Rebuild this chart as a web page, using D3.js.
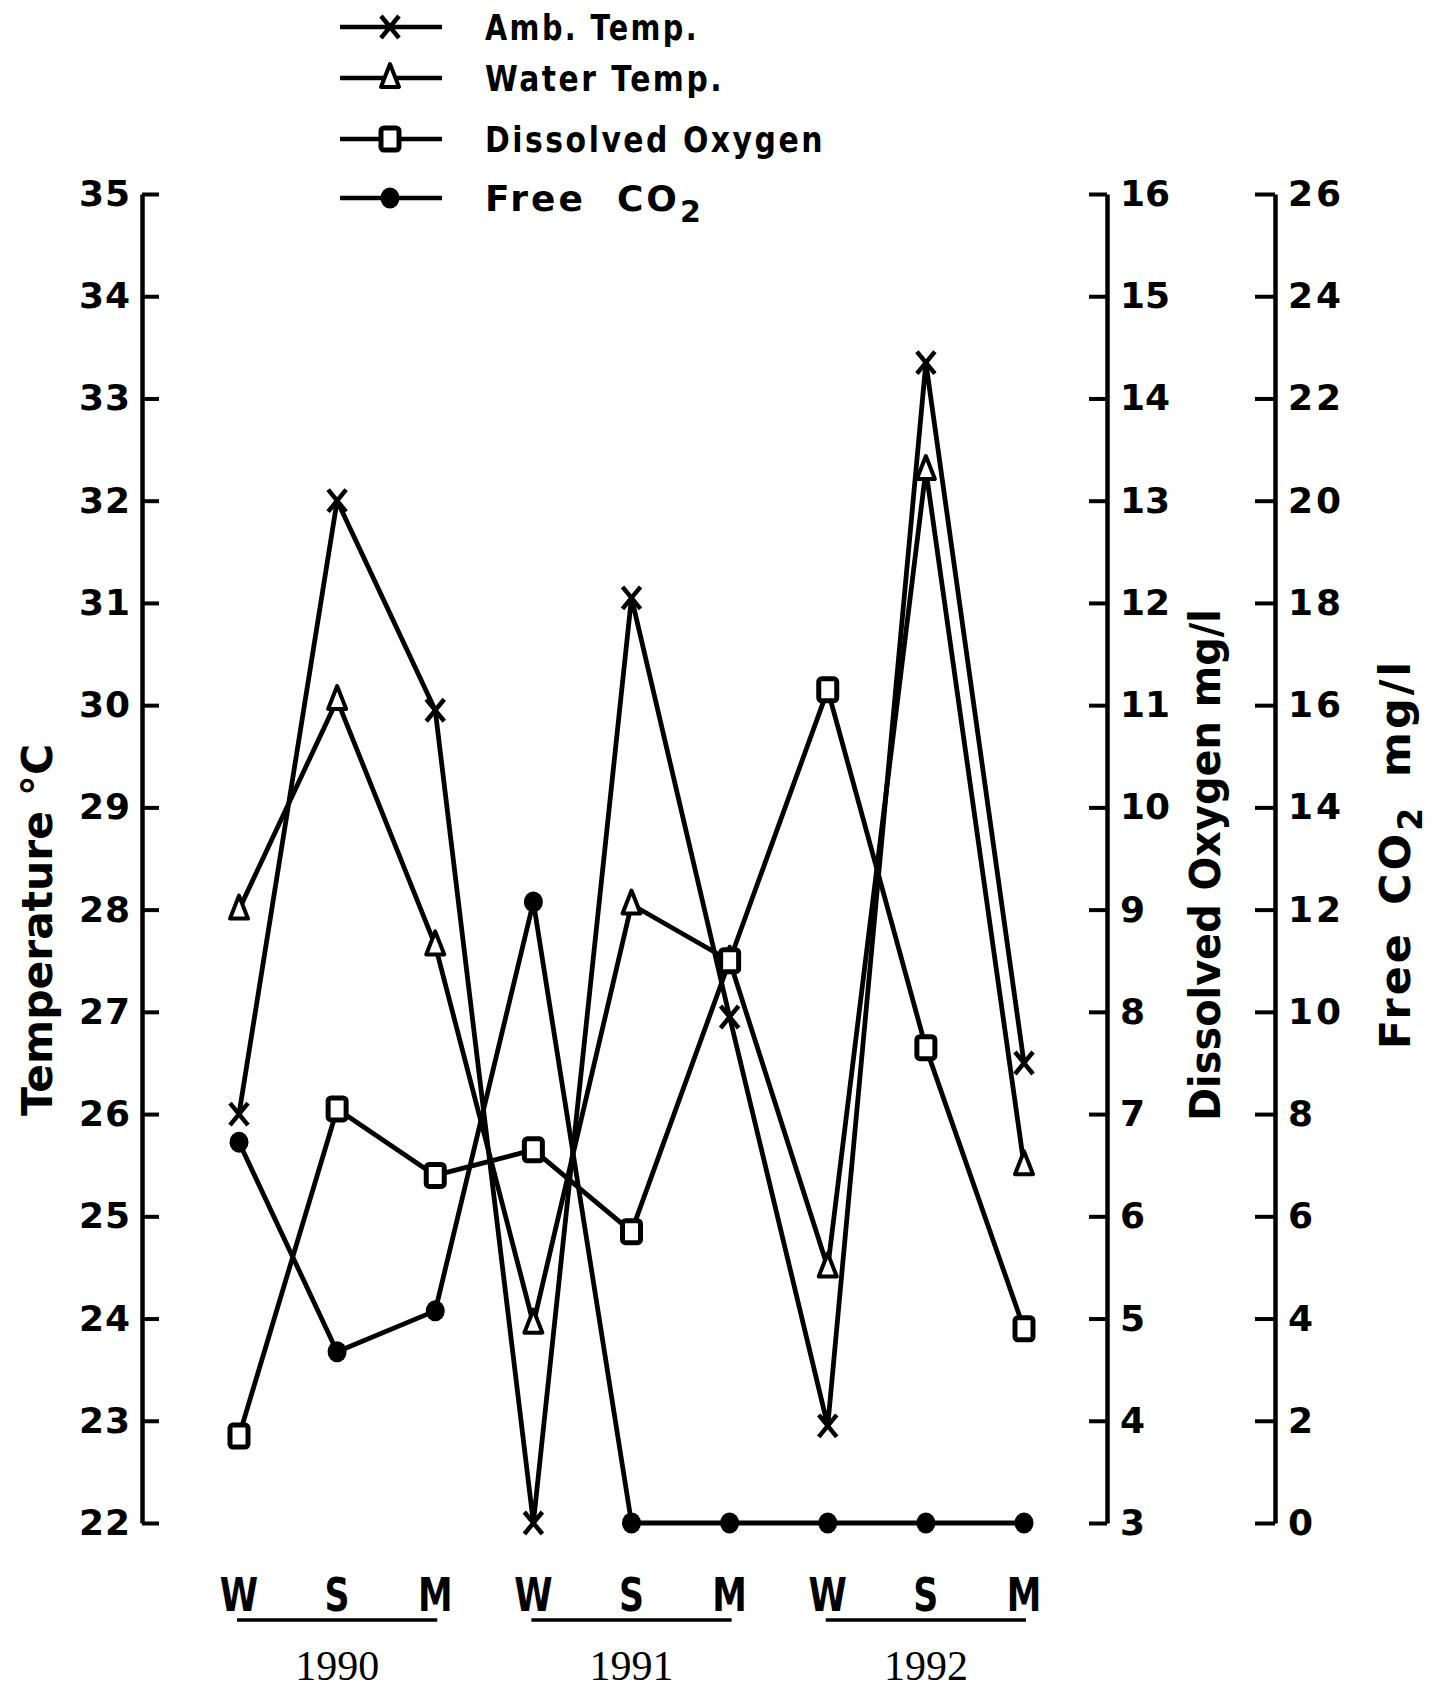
<!DOCTYPE html>
<html><head><meta charset="utf-8">
<script src="https://cdn.jsdelivr.net/npm/d3@7"></script>
<style>
body{margin:0;background:#fff;}
svg{display:block;}
text{fill:#000;}
</style></head>
<body>
<script>
// ---- data ----
const seasons = ["W","S","M","W","S","M","W","S","M"];
const years = ["1990","1991","1992"];
const ambTemp = [26.0, 32.0, 29.95, 22.0, 31.05, 26.95, 22.95, 33.35, 26.5];
const waterTemp = [28.0, 30.05, 27.65, 23.95, 28.05, 27.5, 24.5, 32.3, 25.5];
const dissolvedO2 = [3.85, 7.05, 6.4, 6.65, 5.85, 8.5, 11.15, 7.65, 4.9];
const freeCO2 = [7.45, 3.35, 4.15, 12.15, 0, 0, 0, 0, 0];
const tempTicks = d3.range(22, 36, 1);
const doTicks = d3.range(3, 17, 1);
const co2Ticks = d3.range(0, 27, 2);
const legendLabels = ["Amb. Temp.", "Water Temp.", "Dissolved Oxygen", "Free  CO"];

(function(){
const W = 1450, H = 1691;
const svg = d3.select("body").append("svg").attr("width", W).attr("height", H);

const plotTop = 194, plotBottom = 1523;
const x = d3.scalePoint().domain(d3.range(9)).range([239, 1024]);
const yT = d3.scaleLinear().domain([22, 35]).range([plotBottom, plotTop]);
const yDO = d3.scaleLinear().domain([3, 16]).range([plotBottom, plotTop]);
const yC = d3.scaleLinear().domain([0, 26]).range([plotBottom, plotTop]);

const tickFont = "bold 36px 'DejaVu Sans', sans-serif";
function styleAxis(g){
  g.selectAll("path").attr("stroke","#000").attr("stroke-width",4.5);
  g.selectAll("line").attr("stroke","#000").attr("stroke-width",4);
  g.selectAll("text").style("font", tickFont).attr("fill","#000");
}

// left axis
const gL = svg.append("g").attr("transform","translate(142,0)")
  .call(d3.axisLeft(yT).tickValues(tempTicks).tickSizeInner(-17).tickSizeOuter(0).tickPadding(11).tickFormat(d3.format("d")));
styleAxis(gL);
gL.selectAll("text").attr("letter-spacing", 1);

// DO axis
const gD = svg.append("g").attr("transform","translate(1107,0)")
  .call(d3.axisRight(yDO).tickValues(doTicks).tickSizeInner(-18).tickSizeOuter(0).tickPadding(13).tickFormat(d3.format("d")));
styleAxis(gD);

// CO2 axis
const gC = svg.append("g").attr("transform","translate(1275,0)")
  .call(d3.axisRight(yC).tickValues(co2Ticks).tickSizeInner(-20).tickSizeOuter(0).tickPadding(13).tickFormat(d3.format("d")));
styleAxis(gC);
gC.selectAll("text").attr("letter-spacing", 3);

// axis titles
const titleFont = "bold 42px 'DejaVu Sans', sans-serif";
svg.append("text").attr("transform","translate(52,930) rotate(-90)")
  .attr("text-anchor","middle").style("font", titleFont)
  .attr("textLength", 372).attr("lengthAdjust","spacingAndGlyphs")
  .text("Temperature  °C");
svg.append("text").attr("transform","translate(1220,865) rotate(-90)")
  .attr("text-anchor","middle").style("font", titleFont)
  .attr("textLength", 512).attr("lengthAdjust","spacingAndGlyphs")
  .text("Dissolved Oxygen  mg/l");
const tC = svg.append("text").attr("transform","translate(1410,854) rotate(-90)")
  .attr("text-anchor","middle").style("font", "bold 43px 'DejaVu Sans', sans-serif")
  .attr("letter-spacing", 3);
tC.append("tspan").text("Free");
tC.append("tspan").attr("dx", 26).text("CO");
tC.append("tspan").attr("dy", 12).style("font-size","33px").text("2");
tC.append("tspan").attr("dy", -12).attr("dx", 28).text("mg/l");

// series
const series = [
  {vals: ambTemp, y: yT, type: "x"},
  {vals: waterTemp, y: yT, type: "tri"},
  {vals: dissolvedO2, y: yDO, type: "sq"},
  {vals: freeCO2, y: yC, type: "dot"}
];
const line = (ys) => d3.line().x((d,i)=>x(i)).y(d=>ys(d));
series.forEach(s=>{
  svg.append("path").attr("d", line(s.y)(s.vals)).attr("fill","none")
    .attr("stroke","#000").attr("stroke-width",4.8).attr("stroke-linejoin","round");
});
function marker(g, type, cx, cy){
  if(type==="x"){
    g.append("path").attr("d",`M${cx-9},${cy-11}L${cx+9},${cy+11}M${cx+9},${cy-11}L${cx-9},${cy+11}`)
      .attr("stroke","#000").attr("stroke-width",4.5).attr("fill","none");
  } else if(type==="tri"){
    g.append("path").attr("d",`M${cx},${cy-14}L${cx+9},${cy+9}L${cx-9},${cy+9}Z`)
      .attr("stroke","#000").attr("stroke-width",4).attr("fill","#fff").attr("stroke-linejoin","round");
  } else if(type==="sq"){
    g.append("rect").attr("x",cx-9).attr("y",cy-11).attr("width",18).attr("height",22).attr("rx",3)
      .attr("stroke","#000").attr("stroke-width",5).attr("fill","#fff");
  } else {
    g.append("ellipse").attr("cx",cx).attr("cy",cy).attr("rx",9.5).attr("ry",10.5).attr("fill","#000");
  }
}
series.forEach(s=>{
  const g = svg.append("g");
  s.vals.forEach((v,i)=>marker(g, s.type, x(i), s.y(v)));
});

// legend
const legY = [27, 78, 139, 198];
const legLen = [214, 239, 340, 0];
const legFont = "bold 36px 'DejaVu Sans', sans-serif";
series.forEach((s,i)=>{
  const g = svg.append("g");
  g.append("line").attr("x1",340).attr("x2",442).attr("y1",legY[i]).attr("y2",legY[i])
    .attr("stroke","#000").attr("stroke-width",4.5);
  marker(g, s.type, 390, legY[i]);
  const t = g.append("text").attr("x",485).attr("y",legY[i]+13).style("font",legFont).attr("letter-spacing",3);
  if(i<3){ t.attr("textLength",legLen[i]).attr("lengthAdjust","spacingAndGlyphs").text(legendLabels[i]); }
  else {
    t.attr("xml:space","preserve").text(legendLabels[3]);
    t.append("tspan").attr("dy",11).style("font-size","30px").text("2");
  }
});

// season labels
seasons.forEach((s,i)=>{
  svg.append("text").attr("transform",`translate(${x(i)},1611) scale(0.74,1)`)
    .attr("text-anchor","middle").style("font","bold 47px 'DejaVu Sans', sans-serif").text(s);
});
// year underlines and labels
years.forEach((yr,k)=>{
  const x0 = x(k*3), x1 = x(k*3+2);
  svg.append("line").attr("x1",x0-2).attr("x2",x1+2).attr("y1",1620).attr("y2",1620)
    .attr("stroke","#000").attr("stroke-width",3.5);
  svg.append("text").attr("x",(x0+x1)/2).attr("y",1680).attr("text-anchor","middle")
    .style("font","42px 'Liberation Serif', serif").text(yr);
});
})();
</script>
</body></html>
